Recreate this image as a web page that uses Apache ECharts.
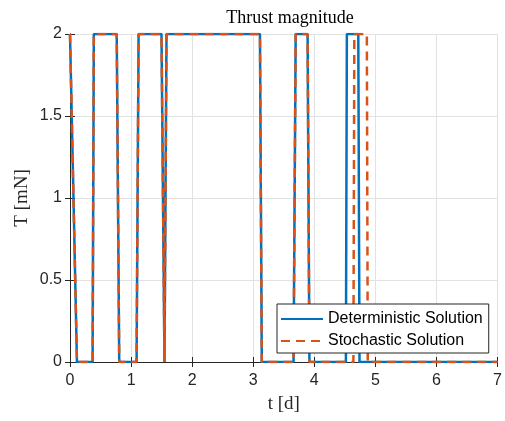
<!DOCTYPE html>
<html>
<head>
<meta charset="utf-8">
<script src="https://cdn.jsdelivr.net/npm/echarts@6/dist/echarts.min.js"></script>
<style>
  html, body { margin: 0; padding: 0; background: #fff; }
  #chart { width: 505px; height: 421px; }
</style>
</head>
<body>
<div id="chart"></div>
<script>
// time in days, thrust in mN
const detTime = [0, 0.114, 0.37, 0.39, 0.765, 0.806, 1.09, 1.123, 1.498, 1.547, 1.58, 3.11, 3.14, 3.66, 3.695, 3.89, 3.92, 4.517, 4.533, 4.72, 4.74, 7]
const detThrust = [2, 0, 0, 2, 2, 0, 0, 2, 2, 0, 2, 2, 0, 0, 2, 2, 0, 0, 2, 2, 0, 0]
const stoTime = [0, 0.114, 0.37, 0.39, 0.765, 0.806, 1.09, 1.123, 1.498, 1.547, 1.58, 3.11, 3.14, 3.66, 3.695, 3.89, 3.92, 4.64, 4.655, 4.86, 4.875, 7]
const stoThrust = [2, 0, 0, 2, 2, 0, 0, 2, 2, 0, 2, 2, 0, 0, 2, 2, 0, 0, 2, 2, 0, 0]
const xTicks = { min: 0, max: 7, step: 1 }
const yTicks = { min: 0, max: 2, step: 0.5 }
const seriesNames = ['Deterministic Solution', 'Stochastic Solution']

const zip = (xs, ys) => xs.map((x, i) => [x, ys[i]])

const chart = echarts.init(document.getElementById('chart'))

const axisColor = '#262626'
const labelFont = { fontFamily: 'Liberation Sans, Arial, sans-serif', fontSize: 16, color: axisColor }
const serif = 'Liberation Serif, Times New Roman, serif'

const baseX = {
  type: 'value',
  min: xTicks.min,
  max: xTicks.max,
  interval: xTicks.step,
  axisLine: { show: true, lineStyle: { color: axisColor, width: 1 } },
  axisTick: { show: true, inside: true, length: 5, lineStyle: { color: axisColor } },
}
const baseY = {
  type: 'value',
  min: yTicks.min,
  max: yTicks.max,
  interval: yTicks.step,
  axisLine: { show: true, lineStyle: { color: axisColor, width: 1 } },
  axisTick: { show: true, inside: true, length: 5, lineStyle: { color: axisColor } },
}

chart.setOption({
  animation: false,
  title: {
    text: 'Thrust magnitude',
    left: 285,
    textAlign: 'center',
    top: 4,
    textStyle: { fontFamily: serif, fontSize: 18, fontWeight: 'normal', color: '#000' },
  },
  grid: { left: 70, right: 5, top: 34, bottom: 59 },
  legend: {
    orient: 'vertical',
    left: 277,
    top: 304,
    itemWidth: 42,
    itemHeight: 16,
    itemGap: 6,
    padding: [7, 6, 4, 3],
    backgroundColor: '#fff',
    borderColor: axisColor,
    borderWidth: 1,
    borderRadius: 0,
    itemStyle: { opacity: 0 },
    textStyle: { fontFamily: 'Liberation Sans, Arial, sans-serif', fontSize: 16, color: '#000' },
    data: seriesNames,
  },
  xAxis: [
    {
      ...baseX,
      position: 'bottom',
      name: 't [d]',
      nameLocation: 'middle',
      nameGap: 33,
      nameTextStyle: { fontFamily: serif, fontSize: 19, color: axisColor },
      axisLabel: { ...labelFont, margin: 11 },
      splitLine: { show: true, lineStyle: { color: '#e2e2e2', width: 1 } },
    },
    {
      ...baseX,
      position: 'top',
      axisLabel: { show: false },
      splitLine: { show: false },
    },
  ],
  yAxis: [
    {
      ...baseY,
      position: 'left',
      name: 'T [mN]',
      nameLocation: 'middle',
      nameGap: 38,
      nameMoveOverlap: false,
      nameTextStyle: { fontFamily: serif, fontSize: 19, color: axisColor },
      axisLabel: { ...labelFont, margin: 8 },
      splitLine: { show: true, lineStyle: { color: '#e2e2e2', width: 1 } },
    },
    {
      ...baseY,
      position: 'right',
      axisLabel: { show: false },
      splitLine: { show: false },
    },
  ],
  series: [
    {
      name: seriesNames[0],
      type: 'line',
      symbol: 'none',
      data: zip(detTime, detThrust),
      lineStyle: { color: '#0072BD', width: 2.5 },
      itemStyle: { color: '#0072BD' },
    },
    {
      name: seriesNames[1],
      type: 'line',
      symbol: 'none',
      data: zip(stoTime, stoThrust),
      lineStyle: { color: '#D95319', width: 2.5, type: [9, 6] },
      itemStyle: { color: '#D95319' },
    },
  ],
})
</script>
</body>
</html>
